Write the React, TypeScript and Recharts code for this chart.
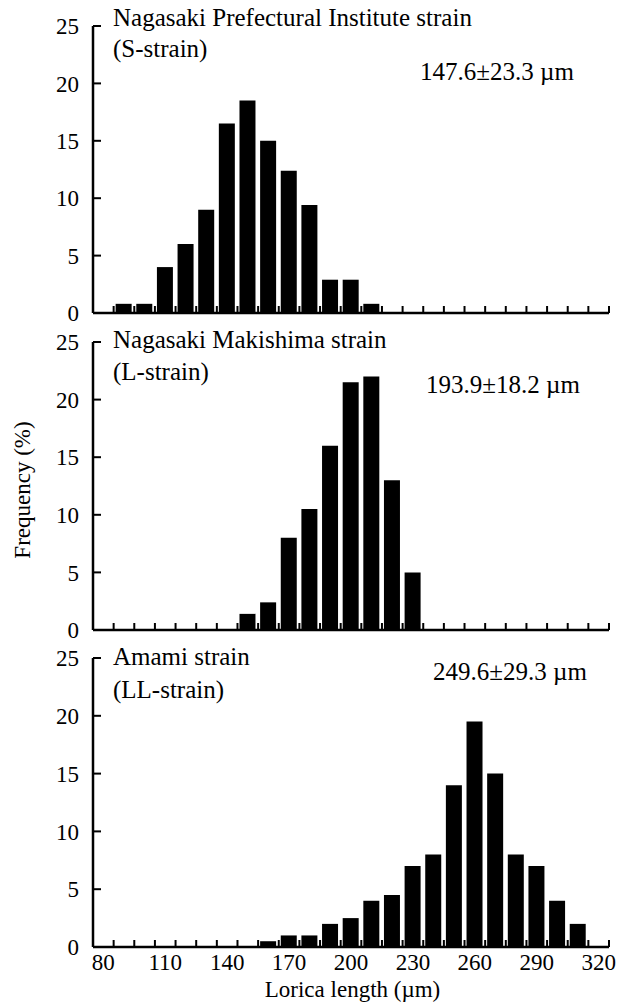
import React from 'react';
import { BarChart, Bar, XAxis, YAxis } from 'recharts';

// ---- data ----
const binEdges = [75, 85, 95, 105, 115, 125, 135, 145, 155, 165, 175, 185, 195, 205, 215, 225, 235, 245, 255, 265, 275, 285, 295, 305, 315, 325];
const xLabelTicks = [80, 110, 140, 170, 200, 230, 260, 290, 320];
const yTicks = [0, 5, 10, 15, 20, 25];

const sStrainLengths = [90, 100, 110, 120, 130, 140, 150, 160, 170, 180, 190, 200, 210];
const sStrainFreq = [0.8, 0.8, 4, 6, 9, 16.5, 18.5, 15, 12.4, 9.4, 2.9, 2.9, 0.8];

const lStrainLengths = [150, 160, 170, 180, 190, 200, 210, 220, 230];
const lStrainFreq = [1.4, 2.4, 8, 10.5, 16, 21.5, 22, 13, 5];

const llStrainLengths = [160, 170, 180, 190, 200, 210, 220, 230, 240, 250, 260, 270, 280, 290, 300, 310];
const llStrainFreq = [0.5, 1, 1, 2, 2.5, 4, 4.5, 7, 8, 14, 19.5, 15, 8, 7, 4, 2];

const panelTitles = ['Nagasaki Prefectural Institute strain', 'Nagasaki Makishima strain', 'Amami strain'];
const panelSubtitles = ['(S-strain)', '(L-strain)', '(LL-strain)'];
const panelStats = ['147.6\u00B123.3 \u00B5m', '193.9\u00B118.2 \u00B5m', '249.6\u00B129.3 \u00B5m'];
const xTitle = 'Lorica length (\u00B5m)';
const yTitle = 'Frequency (%)';

const FONT = 'Liberation Serif, Tinos, Times New Roman, DejaVu Serif, serif';

const toRows = (lengths: number[], freq: number[]) => lengths.map((len, i) => ({ len, freq: freq[i] }));

const panelData = [
  toRows(sStrainLengths, sStrainFreq),
  toRows(lStrainLengths, lStrainFreq),
  toRows(llStrainLengths, llStrainFreq),
];

// layout of each panel (chart box); boxes overlap a little so labels are not clipped
const layout = [
  { top: 0, height: 330, mt: 26, mb: 17, labels: false },
  { top: 316, height: 330, mt: 26, mb: 16, labels: false },
  { top: 632, height: 370, mt: 26, mb: 20, labels: true },
];

const textLayout = [
  { titleTop: 5, subTop: 36, statLeft: 420, statTop: 59 },
  { titleTop: 327, subTop: 359, statLeft: 426, statTop: 372 },
  { titleTop: 644, subTop: 677, statLeft: 433, statTop: 659 },
];

const tickStyle = { fill: '#000', fontSize: 23, fontFamily: FONT };
const axisLineStyle = { stroke: '#000', strokeWidth: 2.5 };
const tickLineStyle = { stroke: '#000', strokeWidth: 2 };
const blank = () => '';

function Panel({ idx }: { idx: number }) {
  const l = layout[idx];
  return (
    <div style={{ position: 'absolute', left: 0, top: l.top }}>
      <BarChart
        width={627}
        height={l.height}
        data={panelData[idx]}
        margin={{ top: l.mt, right: 18, bottom: l.mb, left: 0 }}
      >
        <XAxis
          xAxisId="edges"
          dataKey="len"
          type="number"
          domain={[75, 325]}
          ticks={binEdges}
          interval={0}
          allowDataOverflow
          mirror
          height={1}
          tickFormatter={blank}
          tickSize={7}
          tickMargin={0}
          tickLine={tickLineStyle}
          axisLine={axisLineStyle}
        />
        {l.labels && (
          <XAxis
            xAxisId="labels"
            dataKey="len"
            type="number"
            domain={[75, 325]}
            ticks={xLabelTicks}
            interval={0}
            allowDataOverflow
            height={35}
            tickSize={0}
            tickMargin={7}
            tickLine={false}
            axisLine={false}
            tick={tickStyle}
          />
        )}
        <YAxis
          yAxisId="values"
          type="number"
          domain={[0, 25]}
          ticks={yTicks}
          interval={0}
          allowDataOverflow
          width={93}
          tickSize={0}
          tickMargin={14}
          tickLine={false}
          axisLine={axisLineStyle}
          tick={tickStyle}
        />
        <YAxis
          yAxisId="inner"
          type="number"
          domain={[0, 25]}
          ticks={yTicks}
          interval={0}
          allowDataOverflow
          mirror
          width={1}
          tickFormatter={blank}
          tickSize={8}
          tickMargin={0}
          tickLine={tickLineStyle}
          axisLine={false}
        />
        <Bar
          xAxisId="edges"
          yAxisId="values"
          dataKey="freq"
          fill="#000"
          barSize={16}
          isAnimationActive={false}
        />
      </BarChart>
    </div>
  );
}

const textBase: React.CSSProperties = {
  position: 'absolute',
  fontFamily: FONT,
  fontSize: 25,
  lineHeight: 1,
  whiteSpace: 'nowrap',
  color: '#000',
};

export default function App() {
  return (
    <div style={{ position: 'absolute', left: 0, top: 0, width: 627, height: 1002, background: '#fff', overflow: 'hidden' }}>
      {[0, 1, 2].map((i) => (
        <Panel key={i} idx={i} />
      ))}
      {[0, 1, 2].map((i) => (
        <React.Fragment key={'t' + i}>
          <div style={{ ...textBase, left: 113, top: textLayout[i].titleTop }}>{panelTitles[i]}</div>
          <div style={{ ...textBase, left: 113, top: textLayout[i].subTop }}>{panelSubtitles[i]}</div>
          <div style={{ ...textBase, left: textLayout[i].statLeft, top: textLayout[i].statTop }}>{panelStats[i]}</div>
        </React.Fragment>
      ))}
      <div style={{ ...textBase, fontSize: 23, left: 0, width: 705, top: 977.5, textAlign: 'center' }}>{xTitle}</div>
      <div
        style={{
          ...textBase,
          fontSize: 23,
          left: 22,
          top: 490,
          transform: 'translate(-50%, -50%) rotate(-90deg)',
        }}
      >
        {yTitle}
      </div>
    </div>
  );
}
